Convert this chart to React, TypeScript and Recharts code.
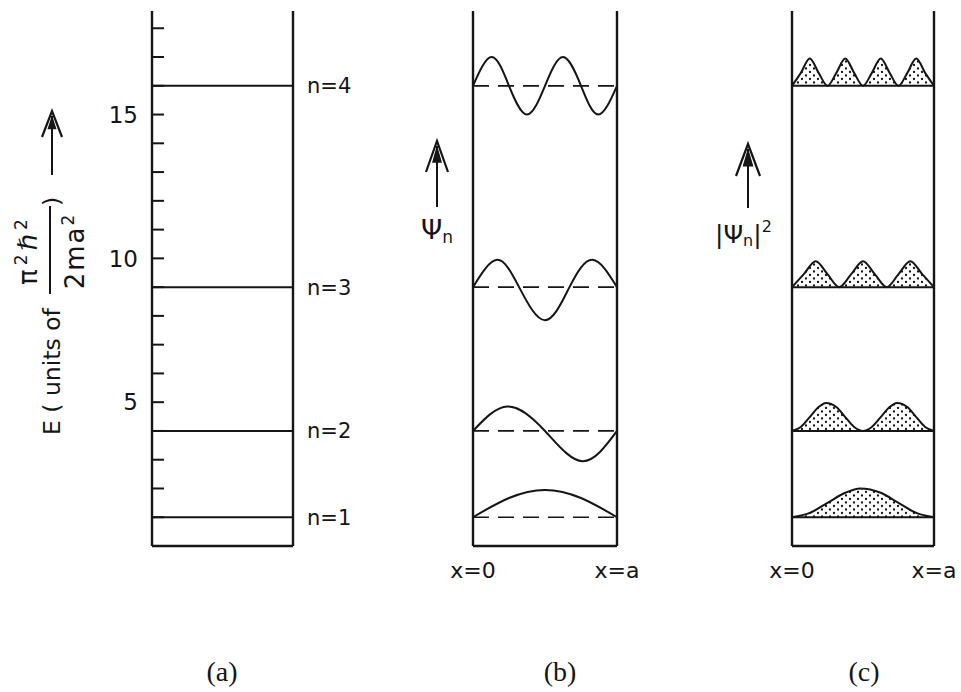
import React from 'react';
import { ComposedChart, Line, Area, XAxis, YAxis, ReferenceLine, Customized } from 'recharts';

const FONT = '"DejaVu Sans", Verdana, sans-serif';
const SERIF = '"Liberation Serif", "Times New Roman", serif';
const INK = '#151515';

// Energy levels (units of pi^2 hbar^2 / 2ma^2)
const levels = [1, 4, 9, 16];
const levelNames = ['n=1', 'n=2', 'n=3', 'n=4'];
const energyTicks = [0, 1, 2, 3, 4, 5, 6, 7, 8, 9, 10, 11, 12, 13, 14, 15, 16, 17, 18];
const energyTickLabels = [5, 10, 15];
const yDomain: [number, number] = [0, 18.6];
const edgeTicks = [0, 1];
const edgeLabels = ['x=0', 'x=a'];

// (b) wavefunctions psi_n drawn on top of their level
const psi1 = [
  { x: 0, y: 1 }, { x: 0.25, y: 1.67 }, { x: 0.5, y: 1.95 }, { x: 0.75, y: 1.67 }, { x: 1, y: 1 },
];
const psi2 = [
  { x: 0, y: 4 }, { x: 0.24, y: 4.85 }, { x: 0.5, y: 4 }, { x: 0.76, y: 2.95 }, { x: 1, y: 4 },
];
const psi3 = [
  { x: 0, y: 9 }, { x: 0.167, y: 9.95 }, { x: 0.32, y: 9 }, { x: 0.5, y: 7.85 },
  { x: 0.67, y: 9 }, { x: 0.83, y: 9.95 }, { x: 1, y: 9 },
];
const psi4 = [
  { x: 0, y: 16 }, { x: 0.13, y: 17 }, { x: 0.25, y: 16 }, { x: 0.375, y: 15 }, { x: 0.5, y: 16 },
  { x: 0.625, y: 17 }, { x: 0.75, y: 16 }, { x: 0.87, y: 15 }, { x: 1, y: 16 },
];
const psiSeries = [psi1, psi2, psi3, psi4];

// (c) probability densities |psi_n|^2 drawn above their level
const prob1 = [
  { x: 0, y: 1 }, { x: 0.125, y: 1.15 }, { x: 0.25, y: 1.5 }, { x: 0.375, y: 1.85 }, { x: 0.48, y: 2.0 },
  { x: 0.625, y: 1.85 }, { x: 0.75, y: 1.5 }, { x: 0.875, y: 1.15 }, { x: 1, y: 1 },
];
const prob2 = [
  { x: 0, y: 4 }, { x: 0.0625, y: 4.14 }, { x: 0.125, y: 4.48 }, { x: 0.1875, y: 4.83 }, { x: 0.24, y: 4.97 },
  { x: 0.3125, y: 4.83 }, { x: 0.375, y: 4.48 }, { x: 0.4375, y: 4.14 }, { x: 0.5, y: 4 },
  { x: 0.5625, y: 4.14 }, { x: 0.625, y: 4.48 }, { x: 0.6875, y: 4.83 }, { x: 0.74, y: 4.97 },
  { x: 0.8125, y: 4.83 }, { x: 0.875, y: 4.48 }, { x: 0.9375, y: 4.14 }, { x: 1, y: 4 },
];
const prob3 = [
  { x: 0, y: 9 }, { x: 0.083, y: 9.45 }, { x: 0.167, y: 9.9 }, { x: 0.25, y: 9.45 }, { x: 0.333, y: 9 },
  { x: 0.417, y: 9.45 }, { x: 0.5, y: 9.9 }, { x: 0.583, y: 9.45 }, { x: 0.667, y: 9 },
  { x: 0.75, y: 9.45 }, { x: 0.833, y: 9.9 }, { x: 0.917, y: 9.45 }, { x: 1, y: 9 },
];
const prob4 = [
  { x: 0, y: 16 }, { x: 0.0625, y: 16.45 }, { x: 0.125, y: 16.95 }, { x: 0.1875, y: 16.45 }, { x: 0.25, y: 16 },
  { x: 0.3125, y: 16.45 }, { x: 0.375, y: 16.95 }, { x: 0.4375, y: 16.45 }, { x: 0.5, y: 16 },
  { x: 0.5625, y: 16.45 }, { x: 0.625, y: 16.95 }, { x: 0.6875, y: 16.45 }, { x: 0.75, y: 16 },
  { x: 0.8125, y: 16.45 }, { x: 0.875, y: 16.95 }, { x: 0.9375, y: 16.45 }, { x: 1, y: 16 },
];
const probSeries = [prob1, prob2, prob3, prob4];

const W = 961;
const H = 692;
const BOX = 2.4;

const EnergyTick = (props: any) => {
  const { x, y, payload } = props;
  const v = payload.value;
  return (
    <g>
      {v > 0 && <line x1={x} x2={x + 12} y1={y} y2={y} stroke={INK} strokeWidth={2} />}
      {energyTickLabels.includes(v) && (
        <text x={x - 14} y={y} dy="0.36em" textAnchor="end" fontSize={23} fontFamily={FONT} fill={INK}>
          {v}
        </text>
      )}
    </g>
  );
};

const Arrow = ({ x, tip, head, bottom, half }: { x: number; tip: number; head: number; bottom: number; half: number }) => (
  <g>
    <line x1={x} x2={x} y1={bottom} y2={tip + 5} stroke={INK} strokeWidth={2} />
    <path d={`M${x - half},${head} L${x},${tip} L${x + half},${head}`} fill="none" stroke={INK} strokeWidth={2.2} strokeLinejoin="miter" />
    <path d={`M${x - half * 0.45},${head - (head - tip) * 0.3} L${x},${tip + 4} L${x + half * 0.45},${head - (head - tip) * 0.3} Z`} fill={INK} />
  </g>
);

const AnnotationA = () => (
  <g fill={INK} fontFamily={FONT}>
    <g transform="rotate(-90)">
      <text x={-435} y={60} fontSize={23.5}>E ( units of</text>
      <text x={-250} y={37} fontSize={26} textAnchor="middle" letterSpacing={4}>
        π<tspan fontSize={17} dy={-10}>2</tspan>
        <tspan dy={10}>ℏ</tspan>
        <tspan fontSize={17} dy={-10}>2</tspan>
      </text>
      <line x1={-294} x2={-206} y1={50} y2={50} stroke={INK} strokeWidth={2} />
      <text x={-251} y={84} fontSize={26} textAnchor="middle" letterSpacing={2}>
        2ma<tspan fontSize={17} dy={-10}>2</tspan>
      </text>
      <text x={-206} y={60} fontSize={23.5}>)</text>
    </g>
    <Arrow x={52} tip={111} head={137} bottom={175} half={10} />
    <text x={222} y={681} fontSize={28} fontFamily={SERIF} textAnchor="middle">(a)</text>
  </g>
);

const AnnotationB = () => (
  <g fill={INK} fontFamily={FONT}>
    <Arrow x={437} tip={141} head={172} bottom={207} half={11} />
    <text x={421} y={239} fontSize={27}>
      Ψ<tspan fontSize={17} dy={4}>n</tspan>
    </text>
    <text x={560} y={681} fontSize={28} fontFamily={SERIF} textAnchor="middle">(b)</text>
  </g>
);

const AnnotationC = () => (
  <g fill={INK} fontFamily={FONT}>
    <Arrow x={748} tip={144} head={176} bottom={208} half={12} />
    <text x={715} y={243} fontSize={25}>
      |Ψ<tspan fontSize={16} dy={3}>n</tspan>
      <tspan fontSize={25} dy={-3}>|</tspan>
      <tspan fontSize={16} dy={-11}>2</tspan>
    </text>
    <text x={864} y={681} fontSize={28} fontFamily={SERIF} textAnchor="middle">(c)</text>
  </g>
);

const layer: React.CSSProperties = { position: 'absolute', left: 0, top: 0 };

const edgeFormatter = (v: number) => edgeLabels[edgeTicks.indexOf(v)] ?? '';

export default function App() {
  return (
    <div style={{ position: 'absolute', left: 0, top: 0, width: W, height: H, background: '#fff' }}>
      {/* (a) energy levels */}
      <div style={layer}>
        <ComposedChart width={W} height={H} margin={{ top: 11, right: W - 293, bottom: 106, left: 92 }}>
          <XAxis
            type="number"
            dataKey="x"
            domain={[0, 1]}
            ticks={edgeTicks}
            tick={false}
            tickLine={false}
            height={40}
            axisLine={{ stroke: INK, strokeWidth: BOX }}
          />
          <YAxis
            type="number"
            domain={yDomain}
            ticks={energyTicks}
            interval={0}
            width={60}
            tickLine={false}
            tickSize={0}
            tickMargin={0}
            allowDataOverflow
            axisLine={{ stroke: INK, strokeWidth: BOX }}
            tick={(p: any) => <EnergyTick {...p} />}
          />
          <ReferenceLine x={1} stroke={INK} strokeWidth={BOX} />
          {levels.map((e, i) => (
            <ReferenceLine
              key={`la${e}`}
              y={e}
              stroke={INK}
              strokeWidth={2}
              label={{ value: levelNames[i], position: 'right', offset: 14, fill: INK, fontSize: 21, fontFamily: FONT }}
            />
          ))}
          <Line data={[{ x: 0, y: 0 }, { x: 1, y: 0 }]} dataKey="y" stroke="none" dot={false} isAnimationActive={false} />
          <Customized component={<AnnotationA />} />
        </ComposedChart>
      </div>

      {/* (b) wavefunctions */}
      <div style={layer}>
        <ComposedChart width={W} height={H} margin={{ top: 11, right: W - 617, bottom: 106, left: 473 }}>
          <XAxis
            type="number"
            dataKey="x"
            domain={[0, 1]}
            ticks={edgeTicks}
            interval={0}
            tickFormatter={edgeFormatter}
            tickLine={false}
            tickSize={0}
            tickMargin={16}
            height={40}
            axisLine={{ stroke: INK, strokeWidth: BOX }}
            tick={{ fill: INK, fontSize: 22, fontFamily: FONT }}
          />
          <YAxis hide type="number" domain={yDomain} allowDataOverflow />
          <ReferenceLine x={0} stroke={INK} strokeWidth={BOX} />
          <ReferenceLine x={1} stroke={INK} strokeWidth={BOX} />
          {levels.map((e) => (
            <ReferenceLine key={`lb${e}`} y={e} stroke={INK} strokeWidth={1.7} strokeDasharray="16 9" />
          ))}
          {psiSeries.map((d, i) => (
            <Line
              key={`psi${i}`}
              data={d}
              dataKey="y"
              type="natural"
              stroke={INK}
              strokeWidth={2}
              dot={false}
              isAnimationActive={false}
            />
          ))}
          <Customized component={<AnnotationB />} />
        </ComposedChart>
      </div>

      {/* (c) probability densities */}
      <div style={layer}>
        <ComposedChart width={W} height={H} margin={{ top: 11, right: W - 934, bottom: 106, left: 792 }}>
          <defs>
            <pattern id="dots" width="8" height="7" patternUnits="userSpaceOnUse">
              <circle cx="2" cy="2" r="1.15" fill={INK} />
              <circle cx="6" cy="5.5" r="1.15" fill={INK} />
            </pattern>
          </defs>
          <XAxis
            type="number"
            dataKey="x"
            domain={[0, 1]}
            ticks={edgeTicks}
            interval={0}
            tickFormatter={edgeFormatter}
            tickLine={false}
            tickSize={0}
            tickMargin={16}
            height={40}
            axisLine={{ stroke: INK, strokeWidth: BOX }}
            tick={{ fill: INK, fontSize: 22, fontFamily: FONT }}
          />
          <YAxis hide type="number" domain={yDomain} allowDataOverflow />
          {probSeries.map((d, i) => (
            <Area
              key={`prob${i}`}
              data={d}
              dataKey="y"
              type="monotone"
              baseValue={levels[i]}
              stroke={INK}
              strokeWidth={2}
              fill="url(#dots)"
              fillOpacity={1}
              dot={false}
              activeDot={false}
              isAnimationActive={false}
            />
          ))}
          <ReferenceLine x={0} stroke={INK} strokeWidth={BOX} />
          <ReferenceLine x={1} stroke={INK} strokeWidth={BOX} />
          {levels.map((e) => (
            <ReferenceLine key={`lc${e}`} y={e} stroke={INK} strokeWidth={2} />
          ))}
          <Customized component={<AnnotationC />} />
        </ComposedChart>
      </div>
    </div>
  );
}
